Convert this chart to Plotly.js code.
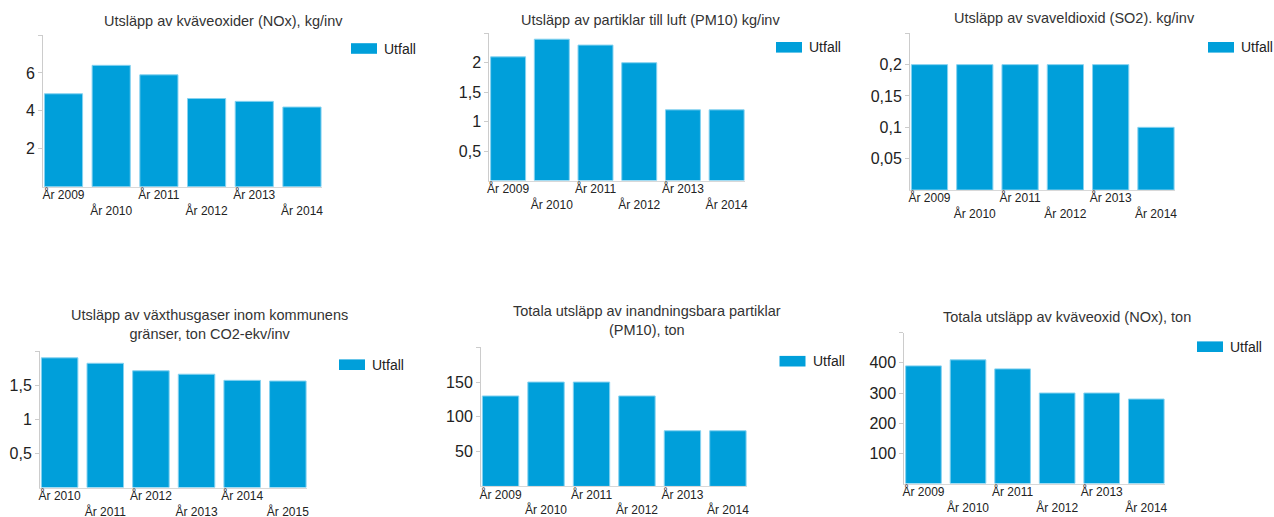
<!DOCTYPE html>
<html>
<head>
<meta charset="utf-8">
<script src="https://cdn.plot.ly/plotly-3.0.1.min.js"></script>
<style>html,body{margin:0;padding:0;background:#fff}#chart{width:1274px;height:517px}</style>
</head>
<body>
<div id="chart"></div>
<script>
// ---- DATA ----
const years0914 = ["År 2009", "År 2010", "År 2011", "År 2012", "År 2013", "År 2014"];
const years1015 = ["År 2010", "År 2011", "År 2012", "År 2013", "År 2014", "År 2015"];
const seriesName = "Utfall";

const title1 = "Utsläpp av kväveoxider (NOx), kg/inv";
const values1 = [4.9, 6.4, 5.9, 4.65, 4.5, 4.2];
const yTicks1 = [2, 4, 6, 8];
const yTickText1 = ["2", "4", "6", ""];

const title2 = "Utsläpp av partiklar till luft (PM10) kg/inv";
const values2 = [2.1, 2.4, 2.3, 2.0, 1.2, 1.2];
const yTicks2 = [0.5, 1, 1.5, 2, 2.5];
const yTickText2 = ["0,5", "1", "1,5", "2", ""];

const title3 = "Utsläpp av svaveldioxid (SO2). kg/inv";
const values3 = [0.2, 0.2, 0.2, 0.2, 0.2, 0.1];
const yTicks3 = [0.05, 0.1, 0.15, 0.2, 0.25];
const yTickText3 = ["0,05", "0,1", "0,15", "0,2", ""];

const title4 = "Utsläpp av växthusgaser inom kommunens<br>gränser, ton CO2-ekv/inv";
const values4 = [1.9, 1.82, 1.71, 1.66, 1.57, 1.56];
const yTicks4 = [0.5, 1, 1.5, 2];
const yTickText4 = ["0,5", "1", "1,5", ""];

const title5 = "Totala utsläpp av inandningsbara partiklar<br>(PM10), ton";
const values5 = [130, 150, 150, 130, 80, 80];
const yTicks5 = [50, 100, 150, 200];
const yTickText5 = ["50", "100", "150", ""];

const title6 = "Totala utsläpp av kväveoxid (NOx), ton";
const values6 = [390, 410, 380, 300, 300, 280];
const yTicks6 = [100, 200, 300, 400, 500];
const yTickText6 = ["100", "200", "300", "400", ""];

// ---- LAYOUT HELPERS ----
const W = 1274, H = 517;
const px = x => x / W;
const py = y => 1 - y / H;
const FONT = "Liberation Sans, Arial, sans-serif";
const BAR = "#009fda";

const charts = [
  {title: title1, cats: years0914, vals: values1, yt: yTicks1, ytt: yTickText1,
   dom: [43, 322, 35, 186.7], tpos: [223, 21], leg: [351, 48.5]},
  {title: title2, cats: years0914, vals: values2, yt: yTicks2, ytt: yTickText2,
   dom: [489.3, 745, 33.3, 180.5], tpos: [650, 20], leg: [776, 47.3]},
  {title: title3, cats: years0914, vals: values3, yt: yTicks3, ytt: yTickText3,
   dom: [910, 1175, 33.3, 190], tpos: [1074, 18.5], leg: [1208, 47.3]},
  {title: title4, cats: years1015, vals: values4, yt: yTicks4, ytt: yTickText4,
   dom: [40, 307, 351, 487.5], tpos: [209, 324], leg: [339, 364.7]},
  {title: title5, cats: years0914, vals: values5, yt: yTicks5, ytt: yTickText5,
   dom: [481, 747, 347.3, 486.4], tpos: [647, 320.5], leg: [779.5, 361.2]},
  {title: title6, cats: years0914, vals: values6, yt: yTicks6, ytt: yTickText6,
   dom: [904.3, 1165, 332.7, 483.5], tpos: [1067, 317.3], leg: [1197, 346.7]}
];

const data = [];
const layout = {
  width: W, height: H,
  margin: {l: 0, r: 0, t: 0, b: 0},
  paper_bgcolor: "#fff", plot_bgcolor: "#fff",
  showlegend: false,
  bargap: 0.2,
  font: {family: FONT, color: "#222"},
  annotations: [], shapes: []
};

charts.forEach((c, i) => {
  const n = i + 1;
  const xa = "xaxis" + (n === 1 ? "" : n), ya = "yaxis" + (n === 1 ? "" : n);
  const xr = "x" + (n === 1 ? "" : n), yr = "y" + (n === 1 ? "" : n);
  data.push({
    type: "bar", name: seriesName, x: c.cats, y: c.vals,
    xaxis: xr, yaxis: yr,
    marker: {color: BAR, line: {color: "#86d2f0", width: 1}},
    hoverinfo: "x+y"
  });
  const [x0, x1, y0, y1] = c.dom;
  layout[xa] = {
    domain: [px(x0), px(x1)], anchor: yr, type: "category",
    range: [-0.43, c.cats.length - 0.58],
    tickmode: "array", tickvals: c.cats,
    ticktext: c.cats.map((t, k) => k % 2 ? "<br>" + t : t),
    tickangle: 0, ticks: "", showgrid: false, zeroline: false,
    ticklabelstandoff: -3,
    showline: true, linecolor: "#d8d8d8", linewidth: 1,
    tickfont: {family: FONT, size: 12, color: "#222"}, fixedrange: true
  };
  layout[ya] = {
    domain: [py(y1), py(y0)], anchor: xr,
    range: [0, c.yt[c.yt.length - 1]],
    tickmode: "array", tickvals: c.yt, ticktext: c.ytt,
    ticks: "outside", ticklen: 4, tickcolor: "#cccccc", tickwidth: 1,
    showgrid: false, zeroline: false,
    showline: true, linecolor: "#cccccc", linewidth: 1,
    tickfont: {family: FONT, size: 16, color: "#222"}, fixedrange: true
  };
  layout.annotations.push({
    xref: "paper", yref: "paper", x: px(c.tpos[0]), y: py(c.tpos[1]),
    xanchor: "center", yanchor: "middle", showarrow: false,
    text: c.title, font: {family: FONT, size: 14.5, color: "#333"}
  });
  // legend
  const [lx, ly] = c.leg;
  layout.shapes.push({
    type: "rect", xref: "paper", yref: "paper",
    x0: px(lx), x1: px(lx + 26), y0: py(ly - 5.3), y1: py(ly + 5.3),
    fillcolor: BAR, line: {width: 0}
  });
  layout.annotations.push({
    xref: "paper", yref: "paper", x: px(lx + 31), y: py(ly),
    xanchor: "left", yanchor: "middle", showarrow: false,
    text: seriesName, font: {family: FONT, size: 14, color: "#222"}
  });
});

Plotly.newPlot("chart", data, layout, {displayModeBar: false, staticPlot: true});
</script>
</body>
</html>
